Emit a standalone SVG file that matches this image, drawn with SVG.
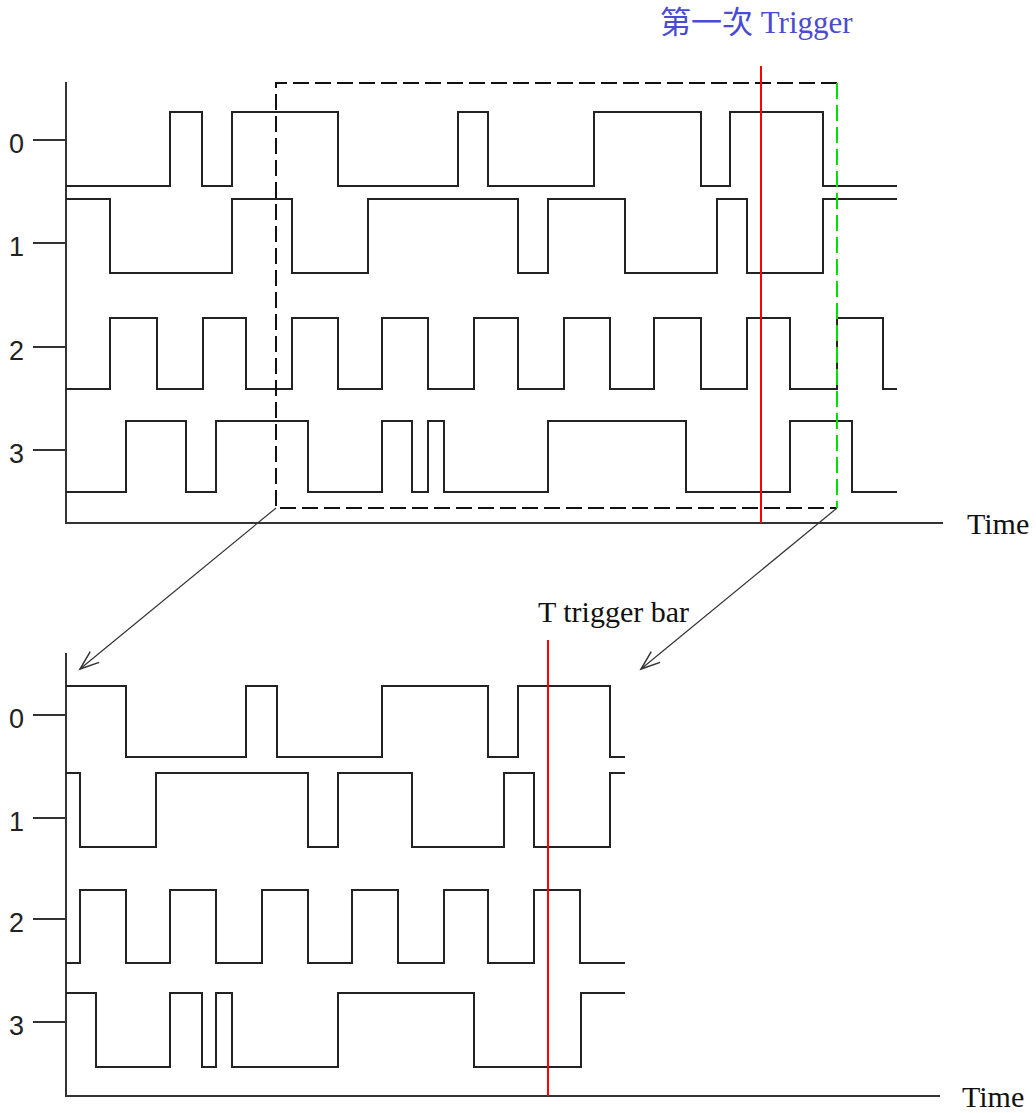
<svg xmlns="http://www.w3.org/2000/svg" width="1036" height="1113" viewBox="0 0 1036 1113">
<style>
.w{fill:none;stroke:#222;stroke-width:2}
.ax{fill:none;stroke:#333;stroke-width:2}
.lbl{font-family:"Liberation Sans",Arial,sans-serif;font-size:27px;fill:#222}
.tx{font-family:"Liberation Serif","Times New Roman",serif;font-size:30px;fill:#111}
.red{stroke:#ff0000;stroke-width:2}
.dash{fill:none;stroke:#111;stroke-width:2;stroke-dasharray:16 6}
.arr{fill:none;stroke:#333;stroke-width:1.2}
</style>
<defs>
<marker id="ah" markerWidth="30" markerHeight="30" refX="24" refY="15" orient="auto" markerUnits="userSpaceOnUse">
<path d="M5,8 L24,15 L5,22" fill="none" stroke="#333" stroke-width="1.5"/>
</marker>
</defs>
<rect width="1036" height="1113" fill="#fff"/>
<g id="top-panel">
<g id="top-axes">
<path class="ax" d="M66,82 V523 H943"/>
<path class="ax" d="M33,140 H66 M33,243 H66 M33,347 H66 M33,450 H66"/>
<text class="lbl" x="9" y="153">0</text>
<text class="lbl" x="9" y="256">1</text>
<text class="lbl" x="9" y="360">2</text>
<text class="lbl" x="9" y="463">3</text>
<text class="tx" x="967" y="534">Time</text>
</g>
<g id="top-wave0"><polyline class="w" points="66,186 170,186 170,112 202,112 202,186 232,186 232,112 338,112 338,186 458,186 458,112 488,112 488,186 594,186 594,112 701,112 701,186 730,186 730,112 823,112 823,186 897,186"/></g>
<g id="top-wave1"><polyline class="w" points="66,199 110,199 110,273 232,273 232,199 292,199 292,273 368,273 368,199 518,199 518,273 548,273 548,199 625,199 625,273 717,273 717,199 747,199 747,273 823,273 823,199 897,199"/></g>
<g id="top-wave2"><polyline class="w" points="66,389 110,389 110,318 157,318 157,389 203,389 203,318 246,318 246,389 292,389 292,318 338,318 338,389 382,389 382,318 428,318 428,389 474,389 474,318 518,318 518,389 564,389 564,318 610,318 610,389 654,389 654,318 701,318 701,389 747,389 747,318 790,318 790,389 837,389 837,318 883,318 883,389 897,389"/></g>
<g id="top-wave3"><polyline class="w" points="66,492 126,492 126,421 186,421 186,492 216,492 216,421 308,421 308,492 382,492 382,421 412,421 412,492 428,492 428,421 444,421 444,492 548,492 548,421 686,421 686,492 790,492 790,421 852,421 852,492 897,492"/></g>
<g id="zoom-window">
<path class="dash" d="M837,83 H276 V508 H837"/>
<path d="M837,83 V508" fill="none" stroke="#00e000" stroke-width="2" stroke-dasharray="16 6"/>
</g>
<g id="first-trigger">
<line class="red" x1="761" y1="66" x2="761" y2="523"/>
<text x="660" y="33" font-family="'Liberation Serif','Noto Sans CJK TC',serif" font-size="31" fill="#4a4ad2">第一次 Trigger</text>
</g>
</g>
<g id="connectors">
<line class="arr" x1="276" y1="508" x2="80" y2="669" marker-end="url(#ah)"/>
<line class="arr" x1="837" y1="508" x2="641" y2="669" marker-end="url(#ah)"/>
</g>
<g id="bottom-panel">
<g id="bottom-axes">
<path class="ax" d="M66,653 V1096 H940"/>
<path class="ax" d="M33,715 H66 M33,818 H66 M33,919 H66 M33,1022 H66"/>
<text class="lbl" x="9" y="728">0</text>
<text class="lbl" x="9" y="831">1</text>
<text class="lbl" x="9" y="932">2</text>
<text class="lbl" x="9" y="1035">3</text>
<text class="tx" x="962" y="1107">Time</text>
</g>
<g id="bottom-wave0"><polyline class="w" points="66,686 126,686 126,757 246,757 246,686 277,686 277,757 382,757 382,686 488,686 488,757 518,757 518,686 610,686 610,757 625,757"/></g>
<g id="bottom-wave1"><polyline class="w" points="66,773 80,773 80,847 156,847 156,773 308,773 308,847 338,847 338,773 412,773 412,847 504,847 504,773 534,773 534,847 610,847 610,773 625,773"/></g>
<g id="bottom-wave2"><polyline class="w" points="66,963 80,963 80,890 126,890 126,963 170,963 170,890 216,890 216,963 262,963 262,890 308,890 308,963 352,963 352,890 398,890 398,963 444,963 444,890 488,890 488,963 534,963 534,890 580,890 580,963 625,963"/></g>
<g id="bottom-wave3"><polyline class="w" points="66,993 96,993 96,1067 170,1067 170,993 202,993 202,1067 216,1067 216,993 232,993 232,1067 338,1067 338,993 474,993 474,1067 581,1067 581,993 625,993"/></g>
<g id="trigger-bar">
<line class="red" x1="548" y1="640" x2="548" y2="1096"/>
<text class="tx" x="538" y="622" font-size="28">T trigger bar</text>
</g>
</g>
</svg>
